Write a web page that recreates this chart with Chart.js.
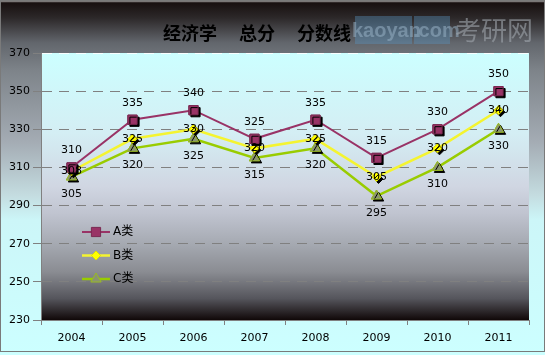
<!DOCTYPE html>
<html><head><meta charset="utf-8">
<script src="https://cdn.jsdelivr.net/npm/chart.js@4/dist/chart.umd.min.js"></script>
<style>html,body{margin:0;padding:0;background:#fff}#wrap{width:545px;height:355px}canvas{display:block}</style>
</head><body><div id="wrap"><canvas id="c" width="545" height="355"></canvas></div>
<script>
const titleText = '经济学　 总分　 分数线';
const years = ['2004','2005','2006','2007','2008','2009','2010','2011'];
const seriesNames = ['A类','B类','C类'];
const aValues = [310,335,340,325,335,315,330,350];
const bValues = [308,325,330,320,325,305,320,340];
const cValues = [305,320,325,315,320,295,310,330];
const yMin = 230, yMax = 370, yStep = 20;

const FONT = '"DejaVu Sans", "Noto Sans CJK SC", sans-serif';

function drawMarker(ctx, style, x, y, r, fill, stroke) {
  ctx.beginPath();
  if (style === 'rect') {
    const s = Math.SQRT1_2 * r;
    ctx.rect(x - s, y - s, 2 * s, 2 * s);
  } else if (style === 'rectRot') {
    ctx.moveTo(x - r, y); ctx.lineTo(x, y - r); ctx.lineTo(x + r, y); ctx.lineTo(x, y + r); ctx.closePath();
  } else {
    ctx.moveTo(x, y - r);
    ctx.lineTo(x + Math.sin(2*Math.PI/3) * r, y - Math.cos(2*Math.PI/3) * r);
    ctx.lineTo(x + Math.sin(4*Math.PI/3) * r, y - Math.cos(4*Math.PI/3) * r);
    ctx.closePath();
  }
  ctx.fillStyle = fill; ctx.fill();
  ctx.strokeStyle = stroke; ctx.lineWidth = 1; ctx.stroke();
}

const bgPlugin = {
  id: 'bg',
  beforeDraw(chart) {
    const {ctx, width, height, chartArea: a} = chart;
    ctx.save();
    const g = ctx.createLinearGradient(0, 0, 0, height);
    g.addColorStop(0, '#e8e8e8');
    g.addColorStop(0.008, '#181010');
    g.addColorStop(0.05, '#2c2829');
    g.addColorStop(0.12, '#62666c');
    g.addColorStop(0.2, '#7e848a');
    g.addColorStop(0.4, '#a4acb4');
    g.addColorStop(0.55, '#c4dce0');
    g.addColorStop(0.62, '#ccf6f8');
    g.addColorStop(1, '#ccffff');
    ctx.fillStyle = g; ctx.fillRect(0, 0, width, height);
    const g2 = ctx.createLinearGradient(0, a.top, 0, a.bottom);
    g2.addColorStop(0, '#ccffff');
    g2.addColorStop(0.3, '#d4eef4');
    g2.addColorStop(0.5, '#d0d6e2');
    g2.addColorStop(0.6, '#c0c4d0');
    g2.addColorStop(0.72, '#a4a8b0');
    g2.addColorStop(0.82, '#8a8c92');
    g2.addColorStop(0.92, '#55555c');
    g2.addColorStop(1, '#100808');
    ctx.fillStyle = g2; ctx.fillRect(a.left, a.top, a.right - a.left, a.bottom - a.top);
    // watermark top right
    ctx.fillStyle = 'rgba(90,150,195,0.38)';
    ctx.fillRect(355, 16, 57, 28);
    ctx.fillRect(414, 16, 36, 28);
    ctx.font = 'bold 20px "Liberation Sans", sans-serif';
    ctx.textBaseline = 'middle'; ctx.textAlign = 'left';
    ctx.fillStyle = 'rgba(150,175,195,0.55)';
    ctx.fillText('kaoyan', 352, 31);
    ctx.fillText('.com', 413, 31);
    ctx.font = '26px "Noto Sans CJK SC", sans-serif';
    ctx.fillStyle = 'rgba(160,166,174,0.6)';
    ctx.fillText('考研网', 455, 30);
    ctx.restore();
  },
  afterDraw(chart) {
    const ctx = chart.ctx;
    ctx.save();
    ctx.strokeStyle = '#7a7a7a'; ctx.lineWidth = 1;
    ctx.strokeRect(0.5, 0.5, 544, 351);
    ctx.restore();
  }
};

const titlePlugin = {
  id: 'ctitle',
  afterDraw(chart) {
    const ctx = chart.ctx;
    ctx.save();
    ctx.font = 'bold 18px "Noto Sans CJK SC", sans-serif';
    ctx.fillStyle = '#000'; ctx.textAlign = 'center'; ctx.textBaseline = 'middle';
    ctx.fillText(titleText, 257, 33);
    ctx.restore();
  }
};

const pointLabelPlugin = {
  id: 'pointLabels',
  afterDatasetsDraw(chart) {
    const ctx = chart.ctx;
    const dsets = chart.data.datasets;
    for (let i = dsets.length - 1; i >= 0; i--) {
      const meta = chart.getDatasetMeta(i);
      meta.data.forEach(pt => {
        ctx.save();
        ctx.shadowColor = '#000'; ctx.shadowOffsetX = 2; ctx.shadowOffsetY = 2; ctx.shadowBlur = 0;
        pt.draw(ctx, chart.chartArea);
        ctx.restore();
      });
    }
    ctx.save();
    ctx.font = '11px ' + FONT;
    ctx.fillStyle = '#000'; ctx.textAlign = 'center'; ctx.textBaseline = 'middle';
    dsets.forEach((ds, i) => {
      const meta = chart.getDatasetMeta(i);
      meta.data.forEach((pt, j) => {
        ctx.fillText(String(ds.data[j]), pt.x, pt.y + ds.labelShift);
      });
    });
    ctx.restore();
  }
};

const legendPlugin = {
  id: 'clegend',
  afterDraw(chart) {
    const ctx = chart.ctx, a = chart.chartArea;
    const x0 = a.left + 41, y0 = a.top + 179;
    ctx.save();
    chart.data.datasets.forEach((ds, i) => {
      const y = y0 + i * 23.5;
      ctx.strokeStyle = ds.borderColor; ctx.lineWidth = ds.borderWidth;
      ctx.beginPath(); ctx.moveTo(x0, y); ctx.lineTo(x0 + 28, y); ctx.stroke();
      drawMarker(ctx, ds.pointStyle, x0 + 14, y, ds.pointRadius, ds.pointBackgroundColor, ds.pointBorderColor);
      ctx.font = '12px ' + FONT;
      ctx.fillStyle = '#000'; ctx.textAlign = 'left'; ctx.textBaseline = 'middle';
      ctx.fillText(ds.label, x0 + 31, y);
    });
    ctx.restore();
  }
};

new Chart(document.getElementById('c'), {
  type: 'line',
  data: {
    labels: years,
    datasets: [
      { label: seriesNames[0], data: aValues, borderColor: '#993366', borderWidth: 2,
        pointStyle: 'rect', pointRadius: 6.5, pointBackgroundColor: '#993366', pointBorderColor: '#7a2a52',
        pointBorderWidth: 1, labelShift: -17, tension: 0 },
      { label: seriesNames[1], data: bValues, borderColor: '#f4f430', borderWidth: 2.5,
        pointStyle: 'rectRot', pointRadius: 4.5, pointBackgroundColor: '#ffff00', pointBorderColor: '#e0e000',
        pointBorderWidth: 1, labelShift: 0, tension: 0 },
      { label: seriesNames[2], data: cValues, borderColor: '#99cc00', borderWidth: 2.5,
        pointStyle: 'triangle', pointRadius: 6, pointBackgroundColor: '#8a9470', pointBorderColor: '#99bb22',
        pointBorderWidth: 1, labelShift: 17, tension: 0 }
    ]
  },
  options: {
    responsive: false, animation: false, devicePixelRatio: 1,
    layout: { padding: { top: 53, right: 16, left: 0, bottom: 0 } },
    plugins: { legend: { display: false }, title: { display: false }, tooltip: { enabled: false } },
    scales: {
      x: {
        type: 'category', offset: true,
        grid: { offset: true, drawOnChartArea: false, tickLength: 5, color: '#808080', tickColor: '#808080' },
        border: { display: true, color: '#808080', width: 1 },
        ticks: { font: { family: FONT, size: 11 }, color: '#000', padding: 7, maxRotation: 0 },
        afterFit(s) { s.height = 35; }
      },
      y: {
        min: yMin, max: yMax,
        ticks: { stepSize: yStep, font: { family: FONT, size: 11 }, color: '#000', padding: 3 },
        grid: {
          color: c => (c.tick && c.tick.value === yMax) ? 'rgba(255,255,255,0.9)' : (c.tick && c.tick.value === yMin ? 'rgba(0,0,0,0)' : '#808080'),
          tickColor: '#808080', tickLength: 8, tickBorderDash: [100, 0], lineWidth: 1
        },
        border: { display: true, color: '#808080', width: 1, dash: [10, 7] },
        afterFit(s) { s.width = 41; }
      }
    }
  },
  plugins: [bgPlugin, pointLabelPlugin, legendPlugin, titlePlugin]
});
</script>
</body></html>
